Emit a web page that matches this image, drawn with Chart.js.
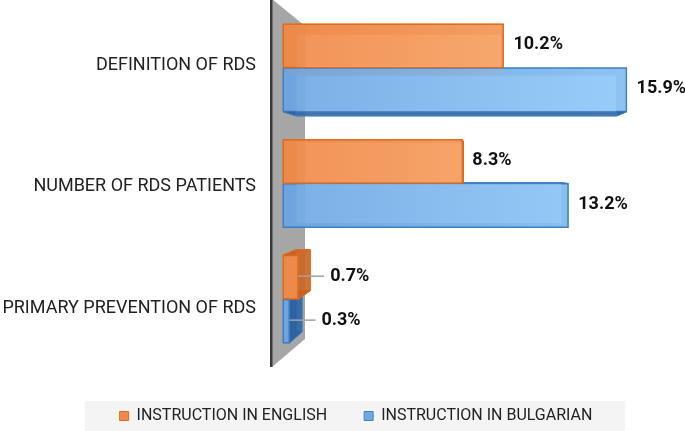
<!DOCTYPE html>
<html>
<head>
<meta charset="utf-8">
<script src="https://cdn.jsdelivr.net/npm/chart.js@4.4.0/dist/chart.umd.min.js"></script>
<style>
  html, body { margin: 0; padding: 0; background: #fff; }
  canvas { display: block; }
</style>
</head>
<body>
<canvas id="myChart" width="685" height="431"></canvas>
<script>
// values (percent)
var categories = ['DEFINITION OF RDS', 'NUMBER OF RDS PATIENTS', 'PRIMARY PREVENTION OF RDS'];
var seriesNames = ['INSTRUCTION IN ENGLISH', 'INSTRUCTION IN BULGARIAN'];
var englishValues = [10.2, 8.3, 0.7];
var bulgarianValues = [15.9, 13.2, 0.3];
var xMax = 18;

// colours per series: front gradient, side faces, back face, edges, legend swatch
var looks = [
  { front: ['rgba(240,140,76,0.9)', 'rgba(252,178,120,0.9)'], side: 'rgba(200,98,32,0.85)',
    back: 'rgba(240,150,90,0.4)', edge: '#dd6c1e', swatch: '#ef8a48' },
  { front: ['rgba(114,170,228,0.9)', 'rgba(152,208,252,0.9)'], side: 'rgba(44,96,160,0.85)',
    back: 'rgba(120,175,230,0.4)', edge: '#3f7fc4', swatch: '#6ea8e2' }
];

var legendShift = 20;

function frontFill(stops) {
  return function(context) {
    var chart = context.chart;
    var area = chart.chartArea;
    if (!area) return stops[0];
    var g = chart.ctx.createLinearGradient(area.left, 0, area.right, 0);
    g.addColorStop(0, stops[0]);
    g.addColorStop(1, stops[1]);
    return g;
  };
}

function quad(ctx, pts, fill, stroke) {
  ctx.beginPath();
  ctx.moveTo(pts[0], pts[1]);
  for (var i = 2; i < pts.length; i += 2) ctx.lineTo(pts[i], pts[i + 1]);
  ctx.closePath();
  ctx.fillStyle = fill;
  ctx.fill();
  ctx.strokeStyle = stroke;
  ctx.lineWidth = 1;
  ctx.stroke();
}

// perspective boxes behind the bars, grey wall, value labels, legend strip
var boxPlugin = {
  id: 'box3d',
  afterLayout: function(chart) {
    var lg = chart.legend;
    if (!lg) return;
    lg.left += legendShift;
    lg.right += legendShift;
    (lg.legendHitBoxes || []).forEach(function(h) { h.left += legendShift; });
  },
  beforeDraw: function(chart) {
    var lg = chart.legend;
    if (!lg || !lg.legendHitBoxes || !lg.legendHitBoxes.length) return;
    var hb = lg.legendHitBoxes;
    var first = hb[0], last = hb[hb.length - 1];
    var cy = first.top + first.height / 2;
    var ctx = chart.ctx;
    ctx.save();
    ctx.fillStyle = '#f4f4f4';
    var left = first.left - 35;
    ctx.fillRect(left, cy - 15, last.left + last.width + 33 - left, 40);
    ctx.restore();
  },
  beforeDatasetsDraw: function(chart) {
    var ctx = chart.ctx;
    var ca = chart.chartArea;
    var xs = chart.scales.x;
    var x0 = xs.getPixelForValue(0);
    ctx.save();
    // wall
    ctx.beginPath();
    ctx.moveTo(x0 - 11, ca.top - 11);
    ctx.lineTo(x0 + 22, ca.top + 16);
    ctx.lineTo(x0 + 22, ca.bottom - 18);
    ctx.lineTo(x0 - 11, ca.bottom + 10);
    ctx.closePath();
    ctx.fillStyle = '#a6a6a6';
    ctx.fill();
    ctx.fillStyle = '#3a3a3a';
    ctx.fillRect(x0 - 13, ca.top - 11, 2.5, ca.bottom - ca.top + 21);

    var vx = xs.getPixelForValue(9.05);
    var vy = ca.top + (ca.bottom - ca.top) * 0.47;
    var f = 1 / 15;
    for (var d = chart.data.datasets.length - 1; d >= 0; d--) {
      var meta = chart.getDatasetMeta(d);
      var look = looks[d];
      meta.data.forEach(function(el) {
        var p = el.getProps(['x', 'y', 'base', 'height'], true);
        var l = Math.min(p.base, p.x), r = Math.max(p.base, p.x);
        var t = p.y - p.height / 2, b = p.y + p.height / 2;
        var bl = l + f * (vx - l), br = r + f * (vx - r);
        var bt = t + f * (vy - t), bb = b + f * (vy - b);
        quad(ctx, [bl, bt, br, bt, br, bb, bl, bb], look.back, look.edge);
        quad(ctx, [l, t, r, t, br, bt, bl, bt], look.side, look.edge);
        quad(ctx, [l, b, r, b, br, bb, bl, bb], look.side, look.edge);
        quad(ctx, [l, t, l, b, bl, bb, bl, bt], look.side, look.edge);
        quad(ctx, [r, t, r, b, br, bb, br, bt], look.side, look.edge);
      });
    }
    ctx.restore();
  },
  afterDatasetsDraw: function(chart) {
    var ctx = chart.ctx;
    ctx.save();
    ctx.font = 'bold 18px Roboto';
    ctx.fillStyle = '#111';
    ctx.textBaseline = 'middle';
    ctx.textAlign = 'left';
    chart.data.datasets.forEach(function(ds, d) {
      var meta = chart.getDatasetMeta(d);
      meta.data.forEach(function(el, j) {
        var v = ds.data[j];
        var txt = v.toFixed(1) + '%';
        if (v < 2) {
          ctx.strokeStyle = '#a3a3a3';
          ctx.lineWidth = 1.5;
          ctx.beginPath();
          ctx.moveTo(el.x, el.y - 1);
          ctx.lineTo(el.x + 26, el.y - 1);
          ctx.stroke();
          ctx.fillText(txt, el.x + 32, el.y - 1);
        } else {
          ctx.fillText(txt, el.x + 10, el.y - 1);
        }
      });
    });
    ctx.restore();
  }
};

var ctx = document.getElementById('myChart');

new Chart(ctx, {
  type: 'bar',
  data: {
    labels: categories,
    datasets: [{
      label: seriesNames[0],
      data: englishValues,
      backgroundColor: frontFill(looks[0].front),
      borderColor: looks[0].edge,
      borderWidth: 1,
      borderSkipped: false
    }, {
      label: seriesNames[1],
      data: bulgarianValues,
      backgroundColor: frontFill(looks[1].front),
      borderColor: looks[1].edge,
      borderWidth: 1,
      borderSkipped: false
    }]
  },
  options: {
    indexAxis: 'y',
    responsive: false,
    animation: false,
    devicePixelRatio: 1,
    categoryPercentage: 0.76,
    barPercentage: 1,
    layout: { padding: { top: 10, right: 13, bottom: -3, left: 0 } },
    scales: {
      x: {
        min: 0,
        max: xMax,
        grid: { display: false },
        border: { display: false },
        ticks: { display: false },
        afterFit: function(scale) { scale.height = 14; }
      },
      y: {
        display: false
      },
      // label axis: the category names sit a little off the bar centres (perspective)
      yLabels: {
        type: 'linear',
        position: 'left',
        reverse: true,
        offset: false,
        min: -0.457,
        max: 2.40,
        grid: { display: false, drawTicks: false },
        border: { display: false },
        afterBuildTicks: function(scale) {
          scale.ticks = categories.map(function(c, i) { return { value: i }; });
        },
        ticks: {
          color: '#222',
          font: { family: 'Roboto', size: 18 },
          padding: 27,
          autoSkip: false,
          callback: function(value) { return categories[value]; }
        },
        afterFit: function(scale) {
          scale.width = 283;
          scale.paddingTop = 0;
          scale.paddingBottom = 0;
        }
      }
    },
    plugins: {
      tooltip: { enabled: false },
      legend: {
        position: 'bottom',
        labels: {
          boxWidth: 9,
          boxHeight: 9,
          padding: 37,
          color: '#222',
          font: { family: 'Roboto', size: 16 },
          generateLabels: function(chart) {
            return chart.data.datasets.map(function(ds, i) {
              return {
                text: ds.label,
                fillStyle: looks[i].swatch,
                strokeStyle: looks[i].edge,
                lineWidth: 1,
                fontColor: '#222',
                hidden: false,
                datasetIndex: i
              };
            });
          }
        }
      }
    }
  },
  plugins: [boxPlugin]
});
</script>
</body>
</html>
